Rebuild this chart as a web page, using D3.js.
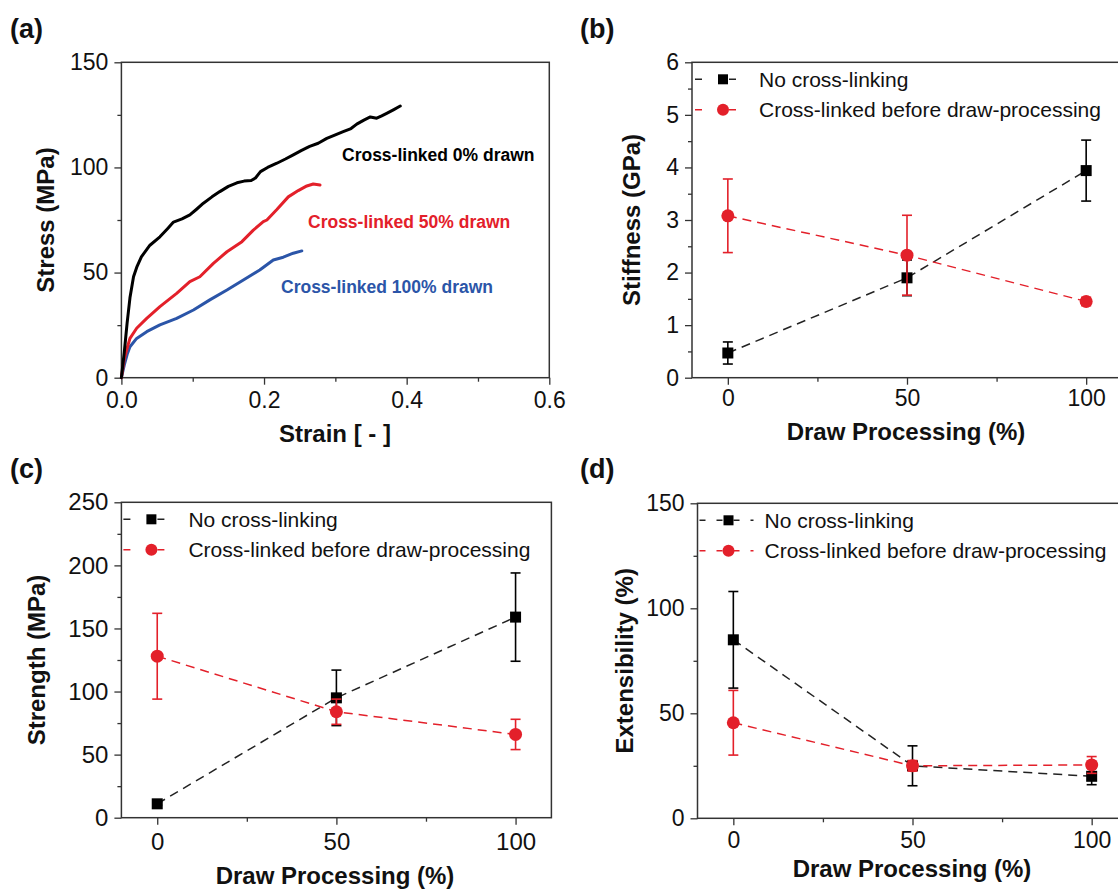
<!DOCTYPE html>
<html><head><meta charset="utf-8">
<script src="https://cdn.jsdelivr.net/npm/d3@7"></script>
<style>
body{margin:0;background:#fff}
svg{display:block}
text{font-family:"Liberation Sans",Arial,Helvetica,sans-serif}
</style>
</head><body>
<svg id="fig" width="1118" height="890"></svg>
<script>
// ---------- DATA ----------
// (a) stress-strain curves: [strain, stress MPa]
const curve0 = [[0,0],[0.004,12],[0.008,26],[0.012,38],[0.017,48],[0.022,53],[0.028,57.5],[0.04,63],[0.054,67],[0.065,71],[0.073,74],[0.085,75.5],[0.096,77.4],[0.105,80],[0.115,83],[0.127,86],[0.138,88.5],[0.15,91],[0.162,92.7],[0.172,93.5],[0.182,93.8],[0.188,95],[0.195,98],[0.205,100],[0.218,102],[0.23,104],[0.241,106],[0.252,108],[0.264,110],[0.276,111.5],[0.288,113.8],[0.3,115.5],[0.311,117],[0.322,118.5],[0.33,120.6],[0.34,122.5],[0.349,124],[0.358,123.4],[0.365,124.5],[0.372,125.7],[0.382,127.5],[0.391,129.2]];
const curve50 = [[0,0],[0.004,9],[0.008,14],[0.012,18.7],[0.0214,23.5],[0.0355,28.2],[0.054,33.8],[0.0775,40.1],[0.096,45.7],[0.11,48],[0.129,54.4],[0.148,59.9],[0.169,64.7],[0.185,70.2],[0.199,74.2],[0.204,75],[0.218,80],[0.234,86],[0.248,89],[0.26,91.2],[0.269,92.1],[0.2785,91.6]];
const curve100 = [[0,0],[0.004,6],[0.008,11],[0.012,14.7],[0.0214,18.7],[0.0355,21.9],[0.054,25.1],[0.0775,28.2],[0.101,32.2],[0.124,37],[0.148,41.7],[0.171,46.5],[0.194,51.2],[0.213,56],[0.227,57.3],[0.241,59.2],[0.253,60.3]];
const curveLabels = ["Cross-linked 0% drawn","Cross-linked 50% drawn","Cross-linked 100% drawn"];

// (b)-(d) draw processing levels
const drawLevels = [0, 50, 100];
const seriesNames = ["No cross-linking", "Cross-linked before draw-processing"];

const stiffNoXL = [0.47, 1.9, 3.94];
const stiffNoXLErr = [0.21, 0.34, 0.58];
const stiffXL = [3.08, 2.33, 1.45];
const stiffXLErr = [0.70, 0.76, 0.08];

const strengthNoXL = [11, 95, 159];
const strengthNoXLErr = [1, 22, 35];
const strengthXL = [128, 84, 66];
const strengthXLErr = [34, 10, 12];

const extNoXL = [85, 25, 20];
const extNoXLErr = [23, 9.5, 4];
const extXL = [45.5, 25, 25.4];
const extXLErr = [15.4, 2.5, 4];

// tick values
const aXMajor = [0, 0.2, 0.4, 0.6], aXMinor = [0.1, 0.3, 0.5];
const aYMajor = [0, 50, 100, 150], aYMinor = [25, 75, 125];
const drawMajor = [0, 50, 100], drawMinor = [25, 75];
const bYMajor = [0,1,2,3,4,5,6], bYMinor = [0.5,1.5,2.5,3.5,4.5,5.5];
const cYMajor = [0,50,100,150,200,250], cYMinor = [25,75,125,175,225];
const dYMajor = [0,50,100,150], dYMinor = [25,75,125];

// ---------- STYLE ----------
const BLACK = "#000000", RED = "#e3202a", BLUE = "#2b55a8", AXIS = "#333";
const svg = d3.select("#fig");

function frame(g, x, y, cfg) {
  const [x0, x1] = x.range(), [y0, y1] = y.range();
  // minor ticks
  g.append("g").attr("transform", `translate(0,${y0})`)
    .call(d3.axisBottom(x).tickValues(cfg.xMinor).tickSize(4).tickFormat(""))
    .call(s => s.select(".domain").remove());
  g.append("g").attr("transform", `translate(${x0},0)`)
    .call(d3.axisLeft(y).tickValues(cfg.yMinor).tickSize(4).tickFormat(""))
    .call(s => s.select(".domain").remove());
  // major ticks
  const xa = g.append("g").attr("transform", `translate(0,${y0})`)
    .call(d3.axisBottom(x).tickValues(cfg.xMajor).tickSize(7).tickPadding(cfg.xPad).tickFormat(cfg.xFmt))
    .call(s => s.select(".domain").remove());
  const ya = g.append("g").attr("transform", `translate(${x0},0)`)
    .call(d3.axisLeft(y).tickValues(cfg.yMajor).tickSize(7).tickPadding(6).tickFormat(cfg.yFmt || d3.format("d")))
    .call(s => s.select(".domain").remove());
  g.selectAll(".tick line").attr("stroke", AXIS).attr("stroke-width", 1.3);
  g.selectAll(".tick text").attr("font-size", cfg.tickSize || 23).attr("fill", "#111")
    .attr("font-family", '"Liberation Sans",Arial,sans-serif');
  g.append("rect").attr("x", x0).attr("y", y1).attr("width", x1 - x0).attr("height", y0 - y1)
    .attr("fill", "none").attr("stroke", AXIS).attr("stroke-width", 1.5);
  // titles
  g.append("text").attr("x", (x0 + x1Vis(x1)) / 2).attr("y", cfg.xTitleY)
    .attr("text-anchor", "middle").attr("font-weight", "bold").attr("font-size", 24)
    .attr("fill", "#111").text(cfg.xTitle)
    .attr("x", cfg.xTitleX);
  g.append("text").attr("transform", `translate(${cfg.yTitleX},${(y0 + y1) / 2}) rotate(-90)`)
    .attr("text-anchor", "middle").attr("font-weight", "bold").attr("font-size", 24)
    .attr("fill", "#111").text(cfg.yTitle);
}
function x1Vis(v){return v;}

function panelLabel(txt, x, y) {
  svg.append("text").attr("x", x).attr("y", y).attr("font-weight", "bold")
    .attr("font-size", 27).attr("fill", "#111").text(txt);
}

// ---------- PANEL (a) ----------
{
  const L = 121.4, R = 549.3, T = 62.3, B = 377.7;
  const x = d3.scaleLinear().domain([0, 0.6]).range([L, R]);
  const y = d3.scaleLinear().domain([0, 150]).range([B, T]);
  const g = svg.append("g");
  frame(g, x, y, {xMajor: aXMajor, xMinor: aXMinor, yMajor: aYMajor, yMinor: aYMinor,
    xFmt: d3.format(".1f"), xPad: 7, xTitle: "Strain [ - ]", xTitleX: 335, xTitleY: 442,
    yTitle: "Stress (MPa)", yTitleX: 54});
  const line = d3.line().x(d => x(d[0])).y(d => y(d[1]));
  const curves = [curve100, curve50, curve0];
  const cols = [BLUE, RED, BLACK];
  curves.forEach((c, i) => {
    g.append("path").datum(c).attr("d", line).attr("fill", "none")
      .attr("stroke", cols[i]).attr("stroke-width", 3).attr("stroke-linejoin", "round").attr("stroke-linecap", "round");
  });
  const lab = [[342, 161, BLACK], [308, 228, RED], [281, 293, BLUE]];
  curveLabels.forEach((t, i) => {
    g.append("text").attr("x", lab[i][0]).attr("y", lab[i][1]).attr("font-weight", "bold")
      .attr("font-size", 17.5).attr("fill", lab[i][2]).text(t);
  });
  panelLabel("(a)", 10, 38);
}

// ---------- scatter panel helper ----------
function errPanel(cfg) {
  const x = d3.scaleLinear().domain([-10, 110]).range([cfg.L, cfg.L + 430]);
  const y = d3.scaleLinear().domain([0, cfg.yMax]).range([cfg.B, cfg.T]);
  const g = svg.append("g");
  frame(g, x, y, {xMajor: drawMajor, xMinor: drawMinor, yMajor: cfg.yMajor, yMinor: cfg.yMinor,
    xFmt: d3.format("d"), xPad: cfg.xPad, xTitle: "Draw Processing (%)", xTitleX: cfg.xTitleX, xTitleY: cfg.xTitleY,
    yTitle: cfg.yTitle, yTitleX: cfg.yTitleX, tickSize: cfg.tickSize});
  const series = [
    {v: cfg.s1, e: cfg.e1, col: BLACK, lineCol: "#222", shape: "square"},
    {v: cfg.s2, e: cfg.e2, col: RED, lineCol: RED, shape: "circle"}
  ];
  const line = d3.line().x((d, i) => x(drawLevels[i])).y(d => y(d));
  series.forEach(s => {
    g.append("path").datum(s.v).attr("d", line).attr("fill", "none")
      .attr("stroke", s.lineCol).attr("stroke-width", 1.5).attr("stroke-dasharray", "9,6");
  });
  series.forEach(s => {
    const eg = g.append("g").attr("stroke", s.col).attr("stroke-width", 1.6);
    s.v.forEach((v, i) => {
      const xi = x(drawLevels[i]), yt = y(v + s.e[i]), yb = y(v - s.e[i]);
      eg.append("line").attr("x1", xi).attr("x2", xi).attr("y1", yt).attr("y2", yb);
      eg.append("line").attr("x1", xi - 5).attr("x2", xi + 5).attr("y1", yt).attr("y2", yt);
      eg.append("line").attr("x1", xi - 5).attr("x2", xi + 5).attr("y1", yb).attr("y2", yb);
    });
    s.v.forEach((v, i) => {
      const xi = x(drawLevels[i]), yi = y(v);
      if (s.shape === "square") {
        g.append("rect").attr("x", xi - 5.5).attr("y", yi - 5.5).attr("width", 11).attr("height", 11).attr("fill", s.col);
      } else {
        g.append("circle").attr("cx", xi).attr("cy", yi).attr("r", 6.5).attr("fill", s.col);
      }
    });
  });
  // legend
  const rows = [cfg.T + 17, cfg.T + 47.5];
  series.forEach((s, k) => {
    const ry = rows[k];
    g.append("line").attr("x1", cfg.L + cfg.lgLine[0]).attr("x2", cfg.L + cfg.lgLine[1]).attr("y1", ry).attr("y2", ry)
      .attr("stroke", s.lineCol).attr("stroke-width", 1.6).attr("stroke-dasharray", cfg.lgDash);
    const mx = cfg.L + cfg.lgMarker;
    if (s.shape === "square") {
      g.append("rect").attr("x", mx - 5).attr("y", ry - 5).attr("width", 10).attr("height", 10).attr("fill", s.col);
    } else {
      g.append("circle").attr("cx", mx).attr("cy", ry).attr("r", 6).attr("fill", s.col);
    }
    g.append("text").attr("x", cfg.L + 67).attr("y", ry).attr("dy", "0.35em")
      .attr("font-size", 21).attr("fill", "#111").text(seriesNames[k]);
  });
  panelLabel(cfg.label, cfg.labX, cfg.labY);
}

// (b)
errPanel({L: 692, T: 62.3, B: 377.7, yMax: 6, yMajor: bYMajor, yMinor: bYMinor,
  s1: stiffNoXL, e1: stiffNoXLErr, s2: stiffXL, e2: stiffXLErr,
  yTitle: "Stiffness (GPa)", yTitleX: 640, xTitleX: 906, xTitleY: 440, xPad: 5,
  lgLine: [3, 44], lgDash: "7,27,7", lgMarker: 31, label: "(b)", labX: 580, labY: 38});
// (c)
errPanel({L: 121.4, T: 502.3, B: 817.7, yMax: 250, yMajor: cYMajor, yMinor: cYMinor,
  s1: strengthNoXL, e1: strengthNoXLErr, s2: strengthXL, e2: strengthXLErr,
  yTitle: "Strength (MPa)", yTitleX: 45, xTitleX: 335, xTitleY: 884, xPad: 8, tickSize: 24,
  lgLine: [2, 43], lgDash: "7,27,7", lgMarker: 30, label: "(c)", labX: 10, labY: 478});
// (d)
errPanel({L: 697.5, T: 503.3, B: 818.3, yMax: 150, yMajor: dYMajor, yMinor: dYMinor,
  s1: extNoXL, e1: extNoXLErr, s2: extXL, e2: extXLErr,
  yTitle: "Extensibility (%)", yTitleX: 633, xTitleX: 912, xTitleY: 877, xPad: 6,
  lgLine: [2, 56], lgDash: "6,11", lgMarker: 31, label: "(d)", labX: 580, labY: 478});
</script>
</body></html>
